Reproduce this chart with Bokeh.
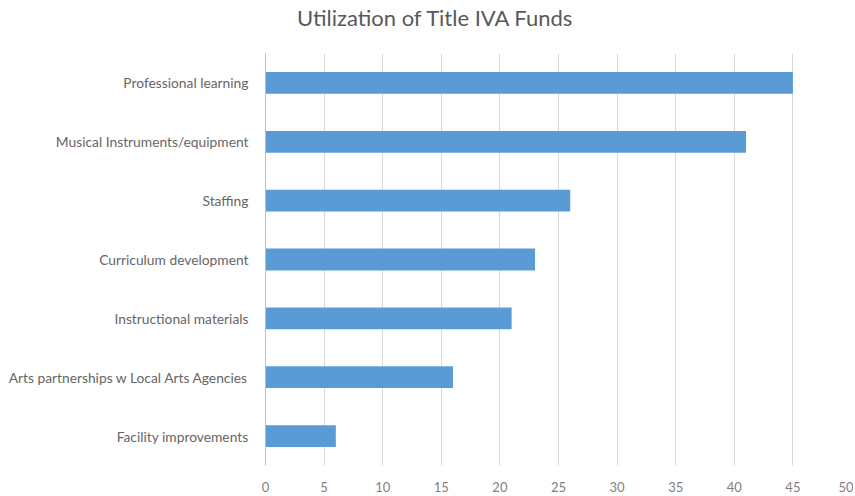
from bokeh.plotting import figure
from bokeh.models import Range1d, FixedTicker, Div
from bokeh.layouts import column
from bokeh.embed import file_html
from bokeh.resources import INLINE

categories = ["Professional learning", "Musical Instruments/equipment", "Staffing",
              "Curriculum development", "Instructional materials",
              "Arts partnerships w Local Arts Agencies", "Facility improvements"]
values = [45, 41, 26, 23, 21, 16, 6]
x_ticks = [0, 5, 10, 15, 20, 25, 30, 35, 40, 45, 50]
title_text = "Utilization of Title IVA Funds"

FONT = "Lato"
title = Div(text=title_text, width=853, height=36, margin=(0, 0, 0, 0),
            styles={"font-family": FONT, "font-size": "22px", "color": "#595959",
                    "line-height": "36px", "text-indent": "297px", "white-space": "nowrap"})

p = figure(width=853, height=458, y_range=list(reversed(categories)),
           x_range=Range1d(0, 50), output_backend="svg", toolbar_location=None,
           min_border_left=265, min_border_right=2, min_border_top=17, min_border_bottom=23)
p.outline_line_color = None
p.hbar(y=categories, right=values, height=0.37, left=0, color="#5b9bd5", line_color=None)

p.xaxis.ticker = FixedTicker(ticks=x_ticks)
p.xaxis.axis_line_color = None
p.xaxis.major_tick_line_color = None
p.xaxis.minor_tick_line_color = None
p.xaxis.major_label_text_font = FONT
p.xaxis.major_label_text_font_size = "13px"
p.xaxis.major_label_text_color = "#7f7f7f"
p.xaxis.major_label_standoff = 10

p.yaxis.axis_line_color = "#bfbfbf"
p.yaxis.major_tick_line_color = None
p.yaxis.minor_tick_line_color = None
p.yaxis.major_label_text_font = FONT
p.yaxis.major_label_text_font_size = "13.8px"
p.yaxis.major_label_text_color = "#666666"
p.yaxis.major_label_standoff = 11

p.xgrid.grid_line_color = "#d9d9d9"
p.ygrid.grid_line_color = None

layout = column(title, p, spacing=0)
open("out.html", "w").write(file_html(layout, INLINE))
